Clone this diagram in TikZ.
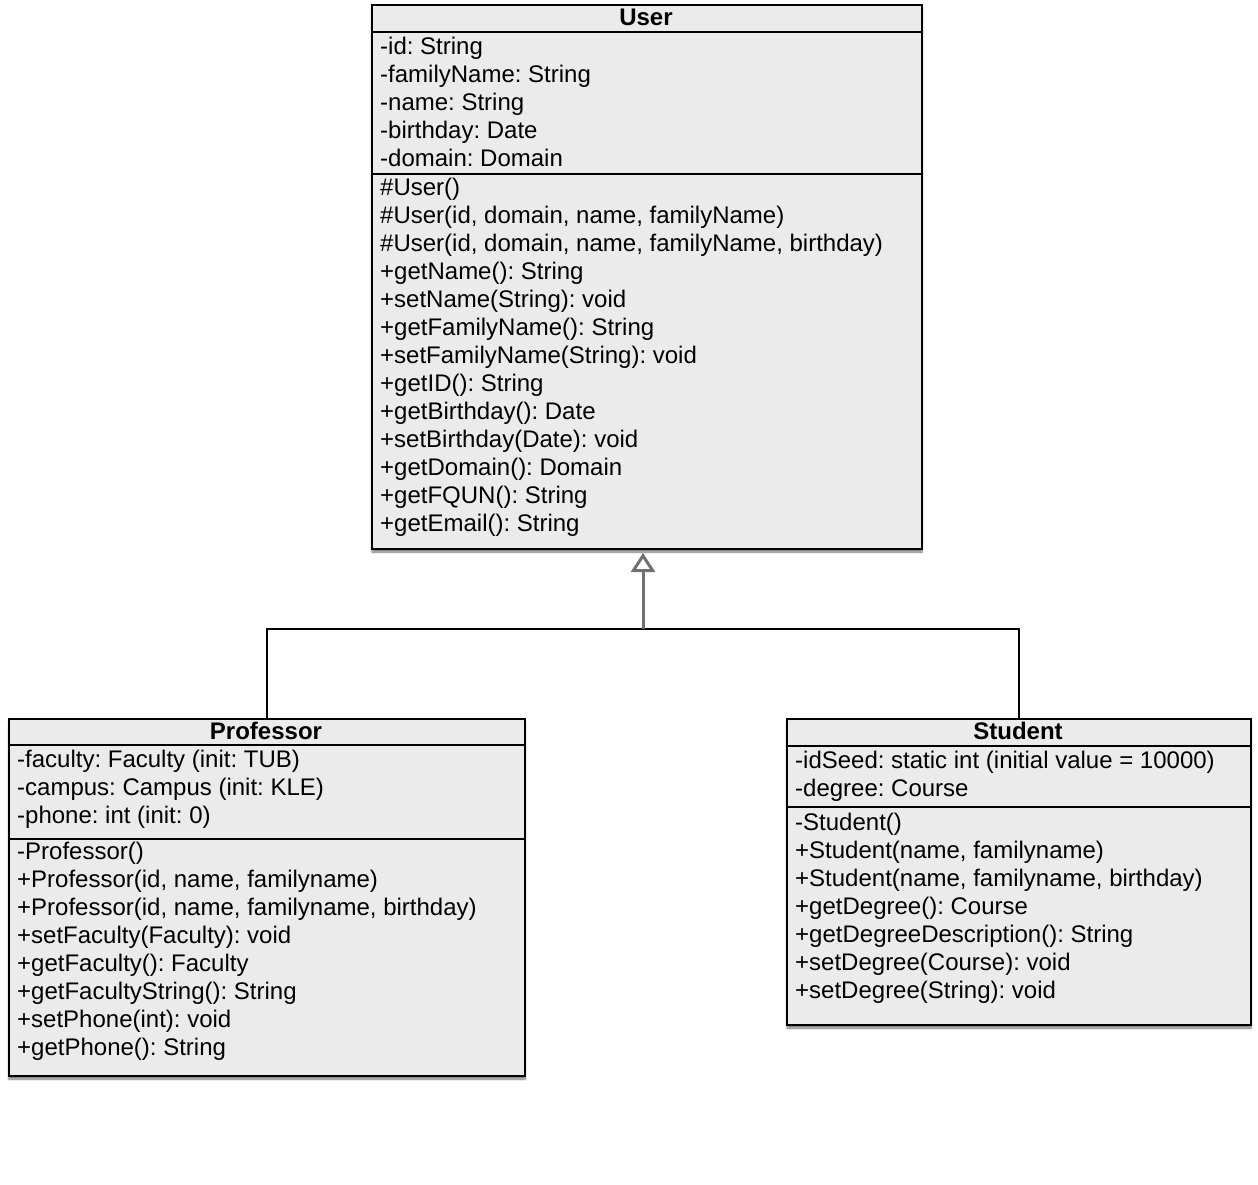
\documentclass[tikz,border=0pt]{standalone}
\usepackage{fontspec}
\setmainfont{Liberation Sans}
\usetikzlibrary{arrows.meta,shadows.blur}
\definecolor{boxfill}{HTML}{EBEBEB}
\definecolor{arrowgray}{HTML}{707070}
\tikzset{
  umlbox/.style={draw=black, line width=2pt, fill=boxfill, rectangle, inner sep=0pt, anchor=north west,
    blur shadow={shadow xshift=0pt, shadow yshift=-3pt, shadow blur steps=6, shadow opacity=55}},
  sepline/.style={line width=1.8pt},
  txt/.style={anchor=base west, inner sep=0pt, font=\fontsize{24}{28}\selectfont\frenchspacing},
  ttl/.style={anchor=base, inner sep=0pt, font=\fontsize{24}{28}\selectfont\bfseries},
  conn/.style={line width=1.4pt, black},
  gen/.style={line width=3pt, arrowgray, -{Triangle[open, length=19pt, width=24pt, line width=3pt]}}
}
\begin{document}
\begin{tikzpicture}[x=1pt, y=-1pt]
\useasboundingbox (0,0) rectangle (1258,1184);
% boxes
\node[umlbox, minimum width=550pt, minimum height=544pt] (user) at (371,4) {};
\node[umlbox, minimum width=516pt, minimum height=357pt] (prof) at (8,718) {};
\node[umlbox, minimum width=464pt, minimum height=306pt] (stud) at (786,718) {};
% separators
\draw[sepline] (371,32) -- (921,32);
\draw[sepline] (371,174) -- (921,174);
\draw[sepline] (8,745) -- (524,745);
\draw[sepline] (8,839) -- (524,839);
\draw[sepline] (786,746) -- (1250,746);
\draw[sepline] (786,807) -- (1250,807);
% titles
\node[ttl] (userT) at (646,25.5) {User};
\node[ttl] (profT) at (266,739.5) {Professor};
\node[ttl] (studT) at (1018,739.5) {Student};
% User attributes
\foreach \t [count=\i from 0] in {{-id: String},{-familyName: String},{-name: String},{-birthday: Date},{-domain: Domain}}
  \node[txt] (ua\i) at (380,54.5+28*\i) {\t};
% User methods
\foreach \t [count=\i from 0] in {{\#User()},{\#User(id, domain, name, familyName)},{\#User(id, domain, name, familyName, birthday)},{+getName(): String},{+setName(String): void},{+getFamilyName(): String},{+setFamilyName(String): void},{+getID(): String},{+getBirthday(): Date},{+setBirthday(Date): void},{+getDomain(): Domain},{+getFQUN(): String},{+getEmail(): String}}
  \node[txt] (um\i) at (380,195.5+28*\i) {\t};
% Professor attributes
\foreach \t [count=\i from 0] in {{-faculty: Faculty (init: TUB)},{-campus: Campus (init: KLE)},{-phone: int (init: 0)}}
  \node[txt] (pa\i) at (17,767.5+28*\i) {\t};
% Professor methods
\foreach \t [count=\i from 0] in {{-Professor()},{+Professor(id, name, familyname)},{+Professor(id, name, familyname, birthday)},{+setFaculty(Faculty): void},{+getFaculty(): Faculty},{+getFacultyString(): String},{+setPhone(int): void},{+getPhone(): String}}
  \node[txt] (pm\i) at (17,859.5+28*\i) {\t};
% Student attributes
\foreach \t [count=\i from 0] in {{-idSeed: static int (initial value = 10000)},{-degree: Course}}
  \node[txt] (sa\i) at (795,768.5+28*\i) {\t};
% Student methods
\foreach \t [count=\i from 0] in {{-Student()},{+Student(name, familyname)},{+Student(name, familyname, birthday)},{+getDegree(): Course},{+getDegreeDescription(): String},{+setDegree(Course): void},{+setDegree(String): void}}
  \node[txt] (sm\i) at (795,830.5+28*\i) {\t};
% connectors
\coordinate (join) at (643,629);
\draw[conn] (prof.north) |- (join) -| (stud.north);
\draw[gen, shorten >=3pt] (join) -- (join |- user.south);
\end{tikzpicture}
\end{document}
